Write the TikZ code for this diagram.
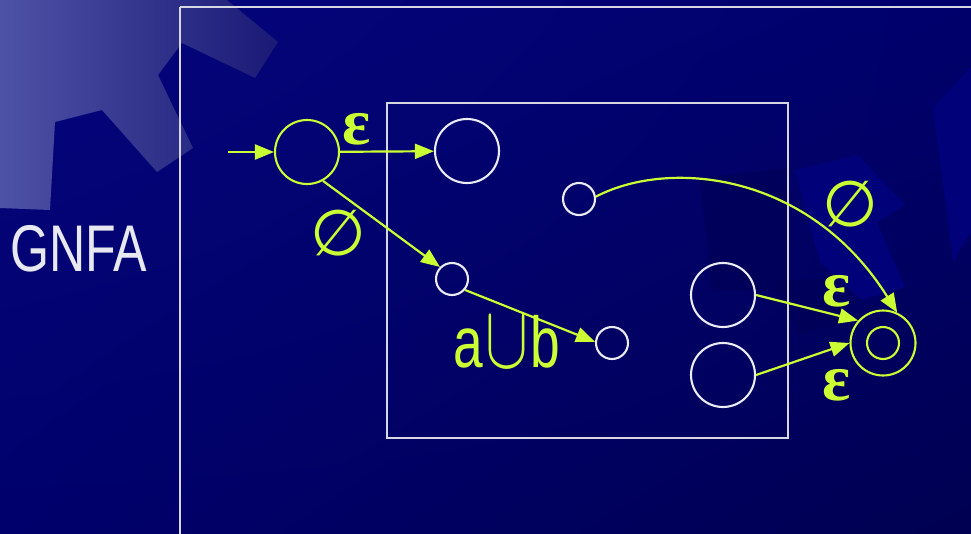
\documentclass[tikz,border=0pt]{standalone}
\usepackage{fontspec}
\usepackage{graphicx}
\setmainfont{Liberation Sans}
\newfontfamily\epsfont{Liberation Serif}
\newfontfamily\symfont{DejaVu Sans}
\usetikzlibrary{arrows.meta,shadings}

\definecolor{lime}{RGB}{204,255,51}
\definecolor{ring}{RGB}{236,236,246}
\definecolor{frame}{RGB}{215,215,228}
\definecolor{bgA}{RGB}{6,6,126}
\definecolor{bgB}{RGB}{0,0,108}
\definecolor{bgC}{RGB}{0,0,82}
\definecolor{gearL}{RGB}{78,82,166}
\definecolor{gearR}{RGB}{26,26,118}
\definecolor{lightpatch}{RGB}{1,1,122}
\definecolor{darkpatch}{RGB}{0,0,84}
\definecolor{titletext}{RGB}{232,232,240}

\tikzset{
  state/.style={circle, draw=ring, line width=2.1pt, inner sep=0pt, minimum size=#1},
  startstate/.style={circle, draw=lime, line width=2.1pt, inner sep=0pt, minimum size=#1},
  trans/.style={draw=lime, line width=2.2pt, -{Triangle[length=19pt,width=15pt]}},
  box/.style={draw=frame, line width=1.8pt},
  epslabel/.style={text=lime, inner sep=0pt, font=\epsfont\bfseries\fontsize{66}{66}\selectfont},
  emptylabel/.style={text=lime, inner sep=0pt, font=\symfont\fontsize{64}{64}\selectfont},
}

\begin{document}
\begin{tikzpicture}[x=1pt,y=-1pt]
\useasboundingbox (0,0) rectangle (971,533);

% backdrop
\shade[upper left=bgA, upper right=bgB, lower left=bgB, lower right=bgC]
  (0,0) rectangle (971,533);

% faint decorative patches
\fill[lightpatch] (795,170) -- (858,155) -- (905,205) -- (877,222)
  -- (905,287) -- (862,300) -- (820,262) -- cycle;
\fill[lightpatch] (933,108) -- (971,67) -- (971,232) -- (953,262) -- cycle;
\fill[darkpatch, opacity=0.6] (700,178) -- (788,168) -- (788,292) -- (712,290) -- cycle;
\fill[darkpatch, opacity=0.5] (770,282) -- (820,278) -- (850,320) -- (800,335) -- cycle;

% gear in the corner
\shade[left color=gearL, right color=gearR]
  (0,0) -- (227,0) -- (278,42) -- (255,78) -- (182,43) -- (158,75)
  -- (193,148) -- (157,172) -- (102,110) -- (55,122) -- (50,210)
  -- (0,208) -- cycle;

% frames
\draw[box] (180,7) -- (975,7);
\draw[box] (180,7) -- (180,540);
\draw[box] (387,103) rectangle (788,438);

% title
\node[text=titletext, inner sep=0pt, font=\fontsize{66}{66}\selectfont]
  (title) at (79,249) {\scalebox{0.76}[1]{GNFA}};

% states
\node[startstate=64pt] (q0) at (307,152) {};
\node[state=64pt] (qa) at (467,151) {};
\node[state=32pt] (qb) at (452,279) {};
\node[state=32pt] (qc) at (579,199) {};
\node[state=32pt] (qd) at (612,343) {};
\node[state=64pt] (qe) at (723,295) {};
\node[state=64pt] (qf) at (723,375) {};
\node[startstate=65pt] (acc) at (883,343) {};
\node[startstate=32pt] (acci) at (acc) {};

% transitions
\coordinate (init) at (228,152);
\draw[trans] (init) -- (q0);
\draw[trans] (q0) -- (qa);
\draw[trans] (q0.-61) -- (qb.135);
\draw[trans] (qb.-40) -- (qd.176);
\draw[trans] (qc.8) .. controls (670,158) and (810,173) .. (acc.65);
\draw[trans] (qe.0) -- (acc.138);
\draw[trans] (qf.0) -- (acc.180);

% labels
\node[epslabel] (l1) at (357,129) {ε};
\node[emptylabel] (l2) at (338,233) {∅};
\node[text=lime, inner sep=0pt, anchor=base, font=\fontsize{72}{72}\selectfont]
  (l3) at (507,367) {\scalebox{0.74}[1]{a\kern3pt\scalebox{3.5}[3.6]{$\cup$}\kern3pt b}};
\node[emptylabel] (l4) at (850,204) {∅};
\node[epslabel] (l5) at (837,291) {ε};
\node[epslabel] (l6) at (837,385) {ε};
\end{tikzpicture}
\end{document}
